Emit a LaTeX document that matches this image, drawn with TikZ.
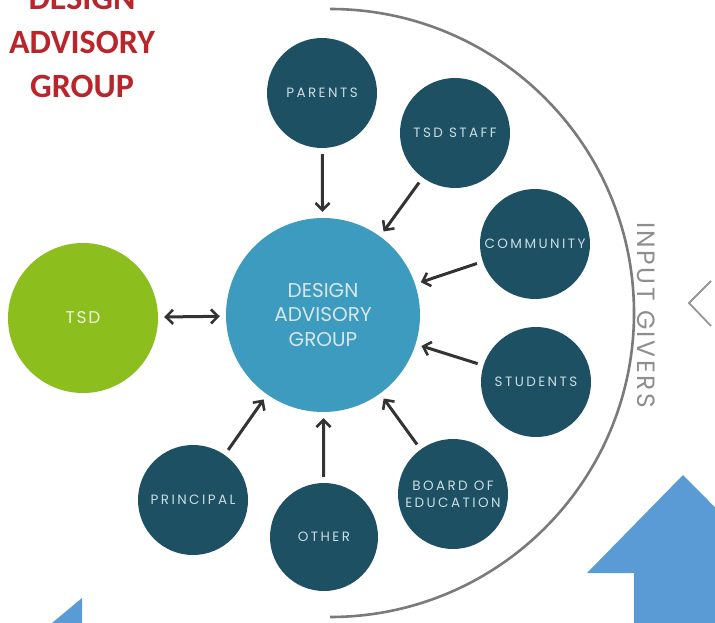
\documentclass[tikz,border=0pt]{standalone}
\usepackage{fontspec}
\setmainfont{Poppins}
\newfontfamily\titlefont{Carlito}
\newfontfamily\labelfont[LetterSpace=18]{Poppins}
\newfontfamily\igfont[LetterSpace=10]{Poppins}
\newfontfamily\tsdfont[LetterSpace=10]{Poppins}
\usetikzlibrary{arrows.meta}
\definecolor{teal}{HTML}{1E5064}
\definecolor{dagblue}{HTML}{3C9BBE}
\definecolor{tsdgreen}{HTML}{8CBE1E}
\definecolor{arrblue}{HTML}{5B9BD5}
\definecolor{redtitle}{HTML}{B8262C}
\definecolor{lbl}{HTML}{C9DCE2}
\definecolor{arcgray}{HTML}{7A7A7A}
\definecolor{arrowgray}{HTML}{333333}
\tikzset{
  giver/.style={circle, fill=teal, minimum size=110pt, inner sep=0pt, text=lbl,
    font=\labelfont\fontsize{13.5}{17}\selectfont, align=center},
  inarrow/.style={draw=arrowgray, line width=3pt,
    -{Straight Barb[length=7pt,width=14pt,line width=2.6pt]},
    shorten <=6pt, shorten >=6pt},
}
\begin{document}
\begin{tikzpicture}[x=1pt,y=-1pt]
\useasboundingbox (0,0) rectangle (715,623);
\fill[white] (0,0) rectangle (715,623);
% big arc
\draw[arcgray, line width=2.6pt] (330,9) arc[start angle=-90, end angle=90, radius=304];
% blue arrows
\fill[arrblue] (683,475) -- (780,573) -- (780,623) -- (634,623) -- (634,573) -- (587,573) -- cycle;
\fill[arrblue] (82,598) -- (82,623) -- (52,623) -- cycle;
% chevron
\draw[arcgray!80, line width=1.8pt] (711,281) -- (689,303) -- (711,326);
% title
\node[text=redtitle, font=\titlefont\bfseries\fontsize{34}{44}\selectfont, align=center] (title) at (82,42) {DESIGN\\ADVISORY\\GROUP};
% main circles
\node[circle, fill=dagblue, minimum size=194pt, inner sep=0pt, text=lbl!70!white,
  font=\fontsize{20}{24.5}\selectfont, align=center] (dag) at (323,315) {DESIGN\\ADVISORY\\GROUP};
\node[circle, fill=tsdgreen, minimum size=150pt, inner sep=0pt, text=white!85!tsdgreen,
  font=\tsdfont\fontsize{17}{20}\selectfont] (tsd) at (83,318) {TSD};
% givers
\node[giver] (parents) at (322,93) {PARENTS};
\node[giver] (staff) at (455,133) {TSD STAFF};
\node[giver] (community) at (535,244) {COMMUNITY};
\node[giver] (students) at (536,382) {STUDENTS};
\node[giver] (board) at (453,494) {BOARD OF\\EDUCATION};
\node[giver, minimum size=108pt] (other) at (324,537) {OTHER};
\node[giver] (principal) at (193,500) {PRINCIPAL};
% input givers label
\node[text=arcgray!85!white, rotate=-90, font=\igfont\fontsize{25}{28}\selectfont] (ig) at (646,315) {INPUT GIVERS};
% arrows
\foreach \n in {parents,staff,community,students,board,other,principal}
  \draw[inarrow] (\n) -- (dag);
\draw[inarrow, {Straight Barb[length=7pt,width=14pt,line width=2.6pt]}-{Straight Barb[length=7pt,width=14pt,line width=2.6pt]}] (tsd) -- (dag);
\end{tikzpicture}
\end{document}
